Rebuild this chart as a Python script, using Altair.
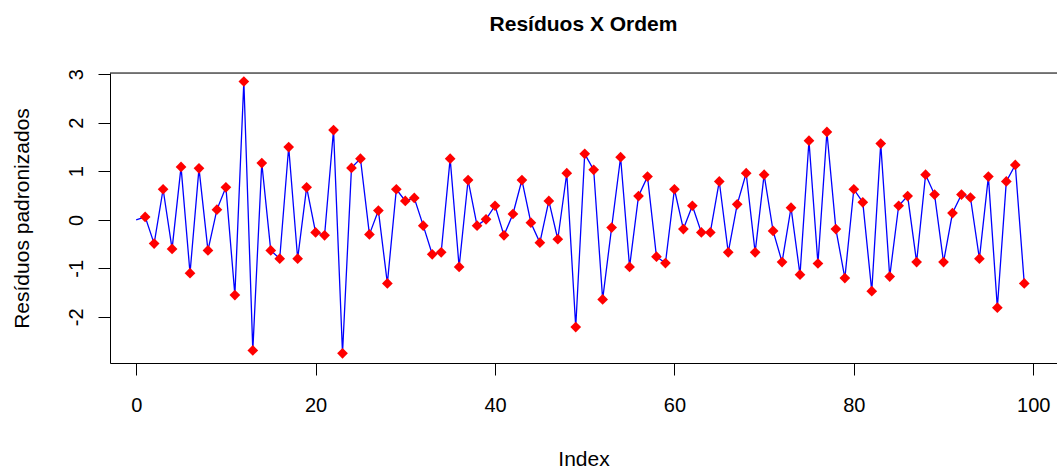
import altair as alt
import pandas as pd

index = list(range(1, 100))
residuos = [0.06, -0.49, 0.63, -0.60, 1.09, -1.10, 1.06, -0.63, 0.21, 0.67,
            -1.55, 2.85, -2.69, 1.17, -0.63, -0.80, 1.50, -0.80, 0.67, -0.26,
            -0.32, 1.85, -2.75, 1.07, 1.26, -0.30, 0.19, -1.31, 0.63, 0.39,
            0.45, -0.12, -0.71, -0.67, 1.26, -0.97, 0.82, -0.12, 0.01, 0.29,
            -0.32, 0.12, 0.82, -0.06, -0.47, 0.39, -0.40, 0.96, -2.21, 1.36,
            1.03, -1.64, -0.16, 1.29, -0.97, 0.49, 0.89, -0.76, -0.89, 0.63,
            -0.19, 0.29, -0.26, -0.26, 0.79, -0.67, 0.32, 0.96, -0.67, 0.93,
            -0.23, -0.87, 0.25, -1.13, 1.63, -0.90, 1.81, -0.19, -1.20, 0.63,
            0.36, -1.47, 1.57, -1.17, 0.29, 0.49, -0.87, 0.93, 0.52, -0.87,
            0.14, 0.52, 0.46, -0.80, 0.89, -1.81, 0.79, 1.13, -1.31]

# The connecting line starts at index 0 (value 0)
line_index = [0] + index
line_values = [0.0] + residuos

x_ticks = [0, 20, 40, 60, 80, 100]
y_ticks = [-2, -1, 0, 1, 2, 3]

W, H = 947, 290
FONT = "Liberation Sans"

pts = pd.DataFrame({"Index": index, "Residuo": residuos})
ln = pd.DataFrame({"Index": line_index, "Residuo": line_values})

x_scale = alt.Scale(domain=[-2.92, 102.65], nice=False, zero=False)
y_scale = alt.Scale(domain=[-2.95, 3.025], nice=False, zero=False)

x_axis = alt.Axis(
    values=x_ticks, title="Index", grid=False,
    tickSize=12, tickColor="black", domainColor="black",
    labelFontSize=20, labelFont=FONT, labelColor="black", labelPadding=20,
    labelFlush=False, labelOverlap=False,
    titleFontSize=21, titleFont=FONT, titleFontWeight="normal", titleColor="black",
    titleY=102, titleBaseline="alphabetic",
)
y_axis = alt.Axis(
    values=y_ticks, title="Resíduos padronizados", grid=False,
    tickSize=12, tickColor="black", domainColor="black",
    labelFontSize=20, labelFont=FONT, labelColor="black",
    labelExpr="'' + datum.value",
    labelAngle=270, labelAlign="center", labelBaseline="bottom", labelPadding=12,
    labelOverlap=False,
    titleFontSize=21, titleFont=FONT, titleFontWeight="normal", titleColor="black",
    titleAngle=270, titleX=-88, titleY=H / 2, titleBaseline="middle", titleAlign="center",
)

line = alt.Chart(ln).mark_line(color="#0000FF", strokeWidth=1.3).encode(
    x=alt.X("Index:Q", scale=x_scale, axis=x_axis),
    y=alt.Y("Residuo:Q", scale=y_scale, axis=y_axis),
)

points = alt.Chart(pts).mark_point(
    shape="diamond", filled=True, color="#FF0000", size=115, opacity=1
).encode(
    x=alt.X("Index:Q", scale=x_scale),
    y=alt.Y("Residuo:Q", scale=y_scale),
)

top_border = alt.Chart(pd.DataFrame({"k": [0]})).mark_rule(
    color="black", strokeWidth=1
).encode(x=alt.value(0), x2=alt.value(W), y=alt.value(0))

chart = alt.layer(line, points, top_border).properties(
    width=W, height=H,
    title=alt.TitleParams(
        "Resíduos X Ordem", font=FONT, fontSize=21, fontWeight="bold",
        color="black", anchor="middle", offset=17, baseline="alphabetic",
    ),
    autosize=alt.AutoSizeParams(type="none"),
    padding={"left": 110, "top": 73, "right": 0, "bottom": 105},
).configure_view(stroke=None).configure(background="white")

chart.save("out.html", embed_options={"renderer": "svg", "actions": False})
